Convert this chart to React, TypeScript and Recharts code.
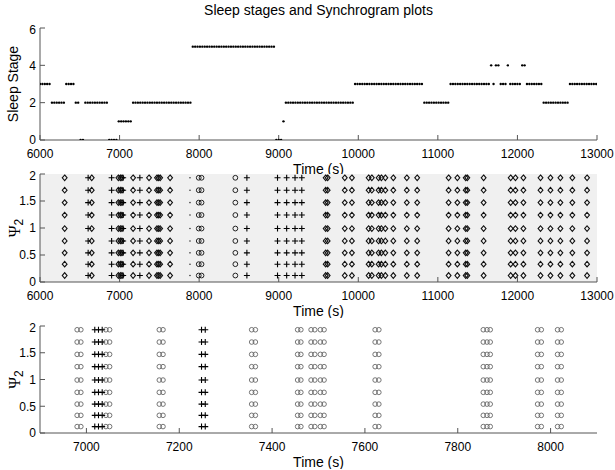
import React from "react";
import { ScatterChart, Scatter, XAxis, YAxis, CartesianGrid, Label } from "recharts";

// hypnogram: one stage per 30 s epoch, starting at 6000 s
const epochStart = 6000;
const epochLength = 30;
const sleepStages = [
  3, 3, 3, 3, 3,
  2, 2, 2, 2, 2, 2,
  3, 3, 3, 3,
  2, 2,
  0, 0,
  2, 2, 2, 2, 2, 2, 2, 2, 2, 2,
  0, 0, 0, 0,
  1, 1, 1, 1, 1, 1,
  2, 2, 2, 2, 2, 2, 2, 2, 2, 2, 2, 2, 2, 2, 2, 2, 2, 2, 2, 2, 2, 2, 2, 2, 2,
  5, 5, 5, 5, 5, 5, 5, 5, 5, 5, 5, 5, 5, 5, 5, 5, 5, 5, 5, 5, 5, 5, 5, 5, 5, 5, 5, 5, 5, 5, 5, 5, 5, 5, 5,
  0, 0, 0,
  1,
  2, 2, 2, 2, 2, 2, 2, 2, 2, 2, 2, 2, 2, 2, 2, 2, 2, 2, 2, 2, 2, 2, 2, 2, 2, 2, 2, 2, 2,
  3, 3, 3, 3, 3, 3, 3, 3, 3, 3, 3, 3, 3, 3, 3, 3, 3, 3, 3, 3, 3, 3, 3, 3, 3, 3, 3, 3, 3,
  2, 2, 2, 2, 2, 2, 2, 2, 2, 2, 2,
  3, 3, 3, 3, 3, 3, 3, 3, 3, 3, 3, 3, 3, 3, 3, 3, 3,
  4, 3, 4, 4, 3, 3, 3, 4, 3, 3, 3, 3, 3, 4, 4,
  3, 3, 3, 3, 3, 3, 3,
  2, 2, 2, 2, 2, 2, 2, 2, 2, 2, 2,
  3, 3, 3, 3, 3, 3, 3, 3, 3, 3, 3, 3,
];

const stageTicks = [0, 2, 4, 6];
const timeTicks = [6000, 7000, 8000, 9000, 10000, 11000, 12000, 13000];
const psiTicks = [0, 0.5, 1, 1.5, 2];
const zoomTicks = [7000, 7200, 7400, 7600, 7800, 8000];

// synchrogram: phase levels hit by each synchronised column
const psiLevels = [0.12, 0.33, 0.54, 0.76, 0.99, 1.24, 1.47, 1.7, 1.93];

// full-night synchrogram columns (s)
const diamondCols = [
  6310, 6650, 6985, 7010, 7030, 7170, 7370, 7470, 7490, 7510, 7635, 9590, 9615,
  9830, 9920, 10130, 10170, 10255, 10290, 10340, 10440, 10610, 10740, 11135, 11245,
  11350, 11370, 11575, 11915, 11975, 12075, 12290, 12415, 12540, 12690, 12875,
];
const circleCols = [7995, 8030, 8455];
const plusCols = [6605, 6900, 7045, 7255, 8600, 8985, 9100, 9205, 9290];
const speckCols = [7885];

// zoomed synchrogram columns (s)
const zoomCircleCols = [
  6980, 6988, 7042, 7050, 7157, 7165, 7356, 7364, 7455, 7462, 7484, 7492, 7504, 7512,
  7622, 7630, 7855, 7863, 7870, 7972, 7980, 8015, 8023,
];
const zoomPlusCols = [7018, 7026, 7034, 7248, 7256];

const stageData = sleepStages.map((s, i) => ({ t: epochStart + i * epochLength, stage: s }));
const toPoints = (cols: number[]) => cols.flatMap((t) => psiLevels.map((psi) => ({ t, psi })));

const font = "'Liberation Sans', Arial, sans-serif";
const axisColor = "#555";
const tickStyle = { fontSize: 12, fill: "#000", fontFamily: font };

const StageDot = (p: any) => <circle cx={p.cx} cy={p.cy} r={1.2} fill="#000" />;
const Speck = (p: any) => <circle cx={p.cx} cy={p.cy} r={0.8} fill="#333" />;
const Diamond = (p: any) => (
  <path
    d={`M${p.cx} ${p.cy - 2.8}L${p.cx + 2.4} ${p.cy}L${p.cx} ${p.cy + 2.8}L${p.cx - 2.4} ${p.cy}Z`}
    fill="none"
    stroke="#111"
    strokeWidth={1.1}
  />
);
const Ring = (p: any) => <circle cx={p.cx} cy={p.cy} r={2.4} fill="none" stroke="#222" strokeWidth={1} />;
const GreyRing = (p: any) => <circle cx={p.cx} cy={p.cy} r={2.3} fill="none" stroke="#666" strokeWidth={0.9} />;
const Plus = (p: any) => (
  <path d={`M${p.cx - 3} ${p.cy}H${p.cx + 3}M${p.cx} ${p.cy - 3}V${p.cy + 3}`} stroke="#000" strokeWidth={1.1} />
);

const StageLabel = (props: any) => {
  const vb = props.viewBox || { y: 0, height: 0 };
  const cx = 13;
  const cy = vb.y + vb.height / 2;
  return (
    <text
      x={cx}
      y={cy}
      transform={`rotate(-90 ${cx} ${cy})`}
      textAnchor="middle"
      dominantBaseline="central"
      fontFamily={font}
      fontSize={14}
      fill="#000"
    >
      Sleep Stage
    </text>
  );
};

const PsiLabel = (props: any) => {
  const vb = props.viewBox || { y: 0, height: 0 };
  const cx = 14;
  const cy = vb.y + vb.height / 2;
  return (
    <text x={cx} y={cy} transform={`rotate(-90 ${cx} ${cy})`} textAnchor="middle" dominantBaseline="central">
      <tspan fontFamily="'Liberation Serif', serif" fontSize={16}>Ψ</tspan>
      <tspan fontFamily={font} fontSize={12} dy={5}>2</tspan>
    </text>
  );
};

type PanelProps = {
  top: number;
  plotHeight: number;
  xDomain: [number, number];
  xTicks: number[];
  yDomain: [number, number];
  yTicks: number[];
  yLabel: React.ReactNode;
  yKey: string;
  bgFill?: string;
  children: React.ReactNode;
};

function Panel({ top, plotHeight, xDomain, xTicks, yDomain, yTicks, yLabel, yKey, bgFill, children }: PanelProps) {
  const marginTop = 6;
  const axisHeight = 36;
  return (
    <div style={{ position: "absolute", left: 0, top: top - marginTop }}>
      <ScatterChart
        width={615}
        height={marginTop + plotHeight + axisHeight}
        margin={{ top: marginTop, right: 18, bottom: 0, left: 0 }}
      >
        <CartesianGrid horizontal={false} vertical={false} fill={bgFill || "#fff"} />
        <XAxis
          xAxisId={0}
          type="number"
          dataKey="t"
          domain={xDomain}
          ticks={xTicks}
          allowDataOverflow
          height={axisHeight}
          stroke={axisColor}
          tickSize={-5}
          tickMargin={14}
          tick={tickStyle}
        >
          <Label value="Time (s)" position="insideBottom" offset={2} style={{ fontSize: 14, fill: "#000", fontFamily: font }} />
        </XAxis>
        <XAxis
          xAxisId="top"
          orientation="top"
          type="number"
          domain={xDomain}
          ticks={xTicks}
          allowDataOverflow
          height={0}
          stroke={axisColor}
          tickSize={-5}
          tick={false}
        />
        <YAxis
          yAxisId={0}
          type="number"
          dataKey={yKey}
          domain={yDomain}
          ticks={yTicks}
          allowDataOverflow
          width={40}
          stroke={axisColor}
          tickSize={-5}
          tickMargin={9}
          tick={tickStyle}
        >
          {yLabel}
        </YAxis>
        <YAxis
          yAxisId="right"
          orientation="right"
          type="number"
          domain={yDomain}
          ticks={yTicks}
          allowDataOverflow
          width={0}
          stroke={axisColor}
          tickSize={-5}
          tick={false}
        />
        {children}
      </ScatterChart>
    </div>
  );
}

export default function App() {
  return (
    <div style={{ position: "absolute", left: 0, top: 0, width: 615, height: 470, background: "#fff", fontFamily: font }}>
      <div style={{ position: "absolute", left: 40, width: 557, top: 2, textAlign: "center", fontSize: 14, lineHeight: "16px" }}>
        Sleep stages and Synchrogram plots
      </div>

      <Panel
        top={28}
        plotHeight={112}
        xDomain={[6000, 13000]}
        xTicks={timeTicks}
        yDomain={[0, 6]}
        yTicks={stageTicks}
        yKey="stage"
        yLabel={<Label content={StageLabel} />}
      >
        <Scatter data={stageData} dataKey="stage" shape={StageDot} isAnimationActive={false} />
      </Panel>

      <Panel
        top={174}
        plotHeight={108}
        xDomain={[6000, 13000]}
        xTicks={timeTicks}
        yDomain={[0, 2]}
        yTicks={psiTicks}
        yKey="psi"
        bgFill="#f0f0f0"
        yLabel={<Label content={PsiLabel} />}
      >
        <Scatter data={toPoints(speckCols)} dataKey="psi" shape={Speck} isAnimationActive={false} />
        <Scatter data={toPoints(diamondCols)} dataKey="psi" shape={Diamond} isAnimationActive={false} />
        <Scatter data={toPoints(circleCols)} dataKey="psi" shape={Ring} isAnimationActive={false} />
        <Scatter data={toPoints(plusCols)} dataKey="psi" shape={Plus} isAnimationActive={false} />
      </Panel>

      <Panel
        top={326}
        plotHeight={107}
        xDomain={[6900, 8100]}
        xTicks={zoomTicks}
        yDomain={[0, 2]}
        yTicks={psiTicks}
        yKey="psi"
        yLabel={<Label content={PsiLabel} />}
      >
        <Scatter data={toPoints(zoomCircleCols)} dataKey="psi" shape={GreyRing} isAnimationActive={false} />
        <Scatter data={toPoints(zoomPlusCols)} dataKey="psi" shape={Plus} isAnimationActive={false} />
      </Panel>
    </div>
  );
}
